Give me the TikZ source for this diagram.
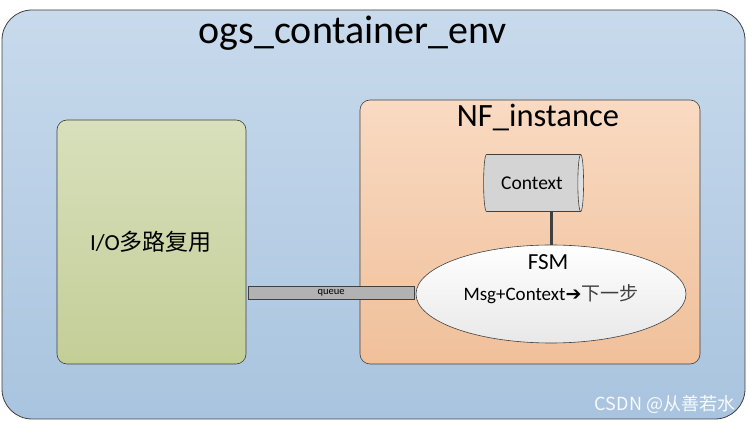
\documentclass[tikz,border=0pt]{standalone}
\usepackage{fontspec}
\setmainfont{Carlito}
\newfontfamily\cjkfont{Noto Sans CJK SC}
\newfontfamily\symfont{DejaVu Sans}
\usetikzlibrary{shapes.geometric}

\definecolor{envtop}{HTML}{C8DAEC}
\definecolor{envbot}{HTML}{A9C4DF}
\definecolor{iotop}{HTML}{D8E0BC}
\definecolor{iobot}{HTML}{C3CE97}
\definecolor{nftop}{HTML}{F9DAC2}
\definecolor{nfbot}{HTML}{F0C09A}
\definecolor{edge}{HTML}{404040}

\tikzset{
  envbox/.style={draw=edge, line width=0.8pt, rounded corners=30pt,
    top color=envtop, bottom color=envbot},
  iobox/.style={draw=edge, line width=0.6pt, rounded corners=10pt,
    top color=iotop, bottom color=iobot},
  nfbox/.style={draw=edge, line width=0.6pt, rounded corners=10pt,
    top color=nftop, bottom color=nfbot},
  ctxnode/.style={cylinder, shape aspect=0.45, draw=edge, line width=0.6pt,
    minimum width=57pt, minimum height=100pt, inner sep=0pt,
    cylinder uses custom fill, cylinder body fill=black!17,
    cylinder end fill=black!12, font=\fontsize{19.5}{23}\selectfont},
  fsmnode/.style={ellipse, draw=edge, line width=0.6pt, minimum width=270pt,
    minimum height=98pt, inner sep=0pt, top color=white, bottom color=black!9,
    font=\fontsize{19}{23}\selectfont},
  queuebar/.style={draw=edge, line width=0.6pt, fill=black!30, minimum width=166pt,
    minimum height=13pt, inner sep=0pt, font=\fontsize{10.5}{11}\selectfont},
  tie/.style={draw=black!75, line width=3pt}
}

\begin{document}
\begin{tikzpicture}[x=1pt, y=-1pt]
\useasboundingbox (0,0) rectangle (748,422);

% boxes
\draw[envbox] (2,10) rectangle (745,419);
\draw[iobox] (57,120) rectangle (246,364);
\draw[nfbox] (360,100) rectangle (700,364);

% titles
\node (envtitle) at (353,33) {\fontsize{40}{46}\selectfont ogs\_container\_env};
\node (nftitle) at (538,118) {\fontsize{32.5}{38}\selectfont NF\_instance};
\node (iotext) at (151,242) {\fontsize{23}{27}\selectfont I/O{\cjkfont 多路复用}};

% context + fsm
\node[ctxnode] (ctx) at (532,183) {Context};
\node[fsmnode] (fsm) at (551,294) {Msg+Context{\symfont ➔}{\cjkfont\color{black!75}下一步}};
\node (fsmtitle) at (548,262) {\fontsize{23}{27}\selectfont FSM};
\draw[tie] (ctx.south -| fsm.north) -- (fsm.north);

% queue between io and fsm
\node[queuebar] (queue) at (331,292.5) {queue};

% watermark
\node[text=white!92!envbot, font=\cjkfont\fontsize{18}{20}\selectfont] (mark) at (665,404) {CSDN @从善若水};

\end{tikzpicture}
\end{document}
